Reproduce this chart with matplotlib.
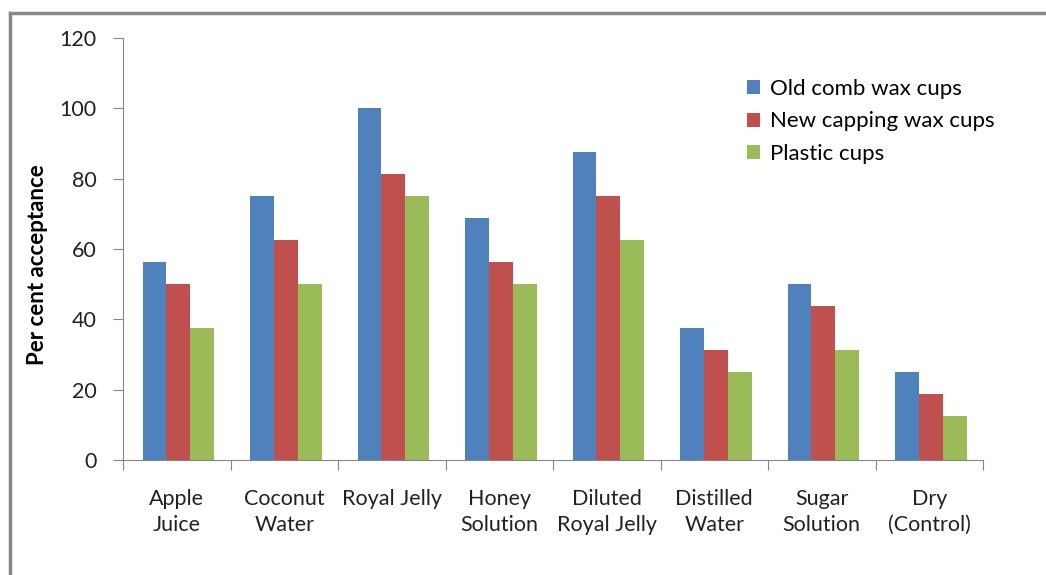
import numpy as np
import matplotlib.pyplot as plt
from matplotlib.lines import Line2D

categories = ["Apple\nJuice", "Coconut\nWater", "Royal Jelly", "Honey\nSolution",
              "Diluted\nRoyal Jelly", "Distilled\nWater", "Sugar\nSolution", "Dry\n(Control)"]
old_comb = [56.25, 75, 100, 68.75, 87.5, 37.5, 50, 25]
new_capping = [50, 62.5, 81.25, 56.25, 75, 31.25, 43.75, 18.75]
plastic = [37.5, 50, 75, 50, 62.5, 25, 31.25, 12.5]
series_names = ["Old comb wax cups", "New capping wax cups", "Plastic cups"]
yticks = [0, 20, 40, 60, 80, 100, 120]

plt.rcParams['font.family'] = ['Lato', 'DejaVu Sans']
colors = ["#4F81BD", "#C0504D", "#9BBB59"]
axis_col = "#868686"

fig = plt.figure(figsize=(10.46, 5.75), dpi=100)
ax = fig.add_axes([123 / 1046, 1 - 460 / 575, 860 / 1046, 422 / 575])

x = np.arange(len(categories))
w = 0.222
for i, (vals, name) in enumerate(zip([old_comb, new_capping, plastic], series_names)):
    ax.bar(x + (i - 1) * w + 0.015, vals, width=w, color=colors[i], label=name, zorder=2)

ax.set_xlim(-0.5, len(categories) - 0.5)
ax.set_ylim(0, 120)
ax.set_yticks(yticks)
ax.tick_params(axis='y', length=7, color=axis_col, labelsize=15.5, pad=12, labelcolor="#222222")
ax.set_xticks(np.arange(len(categories) + 1) - 0.5)
ax.set_xticklabels([])
ax.set_xticks(x, minor=True)
ax.set_xticklabels(categories, minor=True, fontsize=15.5, color="#222222", linespacing=1.35)
ax.tick_params(axis='x', which='major', length=7, color=axis_col)
ax.tick_params(axis='x', which='minor', length=0, pad=21)
for s in ['top', 'right']:
    ax.spines[s].set_visible(False)
for s in ['left', 'bottom']:
    ax.spines[s].set_color(axis_col)

fig.text(38 / 1046, 1 - 265 / 575, "Per cent acceptance", rotation=90, fontsize=16,
         fontweight='bold', ha='center', va='center')

ax.legend(loc='upper left', bbox_to_anchor=(727 / 1046, 1 - 59 / 575),
          bbox_transform=fig.transFigure, frameon=False, fontsize=16,
          handlelength=0.6, handleheight=0.6, handletextpad=0.45, labelspacing=0.56)

# outer border (left and top only visible)
fig.add_artist(Line2D([10 / 1046, 10 / 1046], [0, 1 - 13 / 575], color="#888888", lw=2.5,
                      transform=fig.transFigure))
fig.add_artist(Line2D([10 / 1046, 1], [1 - 13 / 575, 1 - 13 / 575], color="#888888", lw=2.5,
                      transform=fig.transFigure))

fig.savefig("out.png", dpi=100)
